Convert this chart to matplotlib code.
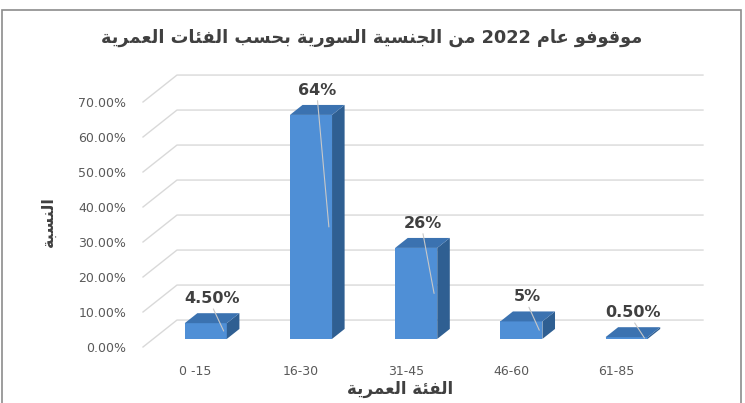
import re
import matplotlib
matplotlib.use('Agg')
import matplotlib.pyplot as plt
from matplotlib.patches import Polygon, Rectangle

plt.rcParams.update({
    'font.family': ['DejaVu Sans'],
    'axes.spines.top': False,
    'axes.spines.right': False,
    'axes.spines.left': False,
    'axes.spines.bottom': False,
})

categories = ['0 -15', '16-30', '31-45', '46-60', '61-85']
shares = [4.5, 64, 26, 5, 0.5]
value_labels = ['4.50%', '64%', '26%', '5%', '0.50%']
y_ticks = [0, 10, 20, 30, 40, 50, 60, 70]
y_tick_labels = ['0.00%', '10.00%', '20.00%', '30.00%', '40.00%', '50.00%', '60.00%', '70.00%']
title = 'موقوفو عام 2022 من الجنسية السورية بحسب الفئات العمرية'
x_title = 'الفئة العمرية'
y_title = 'النسبة'

# isolated, final, initial, medial (None = letter never joins to the next one)
FORMS = {
    '\u0626': ('\uFE89', '\uFE8A', '\uFE8B', '\uFE8C'),
    '\u0627': ('\uFE8D', '\uFE8E', None, None),
    '\u0628': ('\uFE8F', '\uFE90', '\uFE91', '\uFE92'),
    '\u0629': ('\uFE93', '\uFE94', None, None),
    '\u062A': ('\uFE95', '\uFE96', '\uFE97', '\uFE98'),
    '\u062C': ('\uFE9D', '\uFE9E', '\uFE9F', '\uFEA0'),
    '\u062D': ('\uFEA1', '\uFEA2', '\uFEA3', '\uFEA4'),
    '\u0631': ('\uFEAD', '\uFEAE', None, None),
    '\u0633': ('\uFEB1', '\uFEB2', '\uFEB3', '\uFEB4'),
    '\u0639': ('\uFEC9', '\uFECA', '\uFECB', '\uFECC'),
    '\u0641': ('\uFED1', '\uFED2', '\uFED3', '\uFED4'),
    '\u0642': ('\uFED5', '\uFED6', '\uFED7', '\uFED8'),
    '\u0644': ('\uFEDD', '\uFEDE', '\uFEDF', '\uFEE0'),
    '\u0645': ('\uFEE1', '\uFEE2', '\uFEE3', '\uFEE4'),
    '\u0646': ('\uFEE5', '\uFEE6', '\uFEE7', '\uFEE8'),
    '\u0648': ('\uFEED', '\uFEEE', None, None),
    '\u064A': ('\uFEF1', '\uFEF2', '\uFEF3', '\uFEF4'),
}


def arabic(text):
    # join letters into presentation forms, then lay out right-to-left
    out = []
    for i, c in enumerate(text):
        if c not in FORMS:
            out.append(c)
            continue
        prev = text[i - 1] if i > 0 else ''
        nxt = text[i + 1] if i + 1 < len(text) else ''
        join_prev = prev in FORMS and FORMS[prev][2] is not None
        join_next = nxt in FORMS and FORMS[c][2] is not None
        iso, fin, ini, med = FORMS[c]
        if join_prev and join_next:
            out.append(med)
        elif join_prev:
            out.append(fin)
        elif join_next:
            out.append(ini)
        else:
            out.append(iso)
    s = ''.join(out)[::-1]
    return re.sub(r'[0-9]+', lambda m: m.group(0)[::-1], s)


W, H = 745, 403
DEPTH_X, DEPTH_Y = 0.323, 7.7      # oblique depth of the box, in data units
FRONT, BACK = 0.30, 0.67           # bar slab position within the depth
BAR_W = 0.4
GRID = '#d9d9d9'
C_FRONT, C_TOP, C_SIDE = '#4f8fd6', '#3b72b0', '#2f5f92'
TXT = '#595959'

fig = plt.figure(figsize=(W / 100, H / 100), dpi=100)
ax = fig.add_axes([143 / W, 56 / H, 526 / W, 245 / H])
ax.set_xlim(-0.5, len(categories) - 0.5)
ax.set_ylim(0, 70)

# side wall diagonals + back wall gridlines
x0, x1 = -0.5, len(categories) - 0.5
for v in y_ticks:
    ax.plot([x0, x0 + DEPTH_X, x1 + DEPTH_X], [v, v + DEPTH_Y, v + DEPTH_Y],
            color=GRID, lw=1, clip_on=False, zorder=1)

fx, fy = FRONT * DEPTH_X, FRONT * DEPTH_Y
dx, dy = (BACK - FRONT) * DEPTH_X, (BACK - FRONT) * DEPTH_Y
for i, (v, lab) in enumerate(zip(shares, value_labels)):
    xc = i + fx
    xl, xr = xc - BAR_W / 2, xc + BAR_W / 2
    top = fy + v
    ax.bar(xc, v, width=BAR_W, bottom=fy, color=C_FRONT, lw=0, zorder=3, clip_on=False)
    ax.add_patch(Polygon([(xr, fy), (xr, top), (xr + dx, top + dy), (xr + dx, fy + dy)],
                         closed=True, facecolor=C_SIDE, lw=0, zorder=3, clip_on=False))
    ax.add_patch(Polygon([(xl, top), (xr, top), (xr + dx, top + dy), (xl + dx, top + dy)],
                         closed=True, facecolor=C_TOP, lw=0, zorder=3, clip_on=False))
    ax.annotate(lab, xy=(xr - 0.03, fy + v / 2), xytext=(xc + dx / 2, top + dy + 2.0),
                textcoords='data', ha='center', va='bottom', fontsize=11.5,
                fontweight='bold', color='#404040', zorder=5,
                annotation_clip=False,
                arrowprops=dict(arrowstyle='-', color='#c8c8c8', lw=0.8,
                                shrinkA=0, shrinkB=0, relpos=(0.5, 0)))

ax.set_yticks(y_ticks, y_tick_labels)
ax.set_xticks(range(len(categories)), categories)
ax.tick_params(length=0, colors=TXT, labelsize=9)
ax.tick_params(axis='y', pad=12)
ax.tick_params(axis='x', pad=13)
ax.set_facecolor('none')

fig.text(372 / W, 1 - 38 / H, arabic(title), ha='center', va='center',
         fontsize=12.8, fontweight='bold', color='#404040')
fig.text(400 / W, 1 - 389 / H, arabic(x_title), ha='center', va='center',
         fontsize=12, fontweight='bold', color='#404040')
fig.text(48 / W, 1 - 222 / H, arabic(y_title), ha='center', va='center', rotation=90,
         fontsize=11.5, fontweight='bold', color='#404040')

fig.add_artist(Rectangle((2 / W, -0.1), 739 / W, 393 / H + 0.1, transform=fig.transFigure,
                         fill=False, edgecolor='#8c8c8c', lw=1.2))

fig.savefig('out.png', dpi=100)
